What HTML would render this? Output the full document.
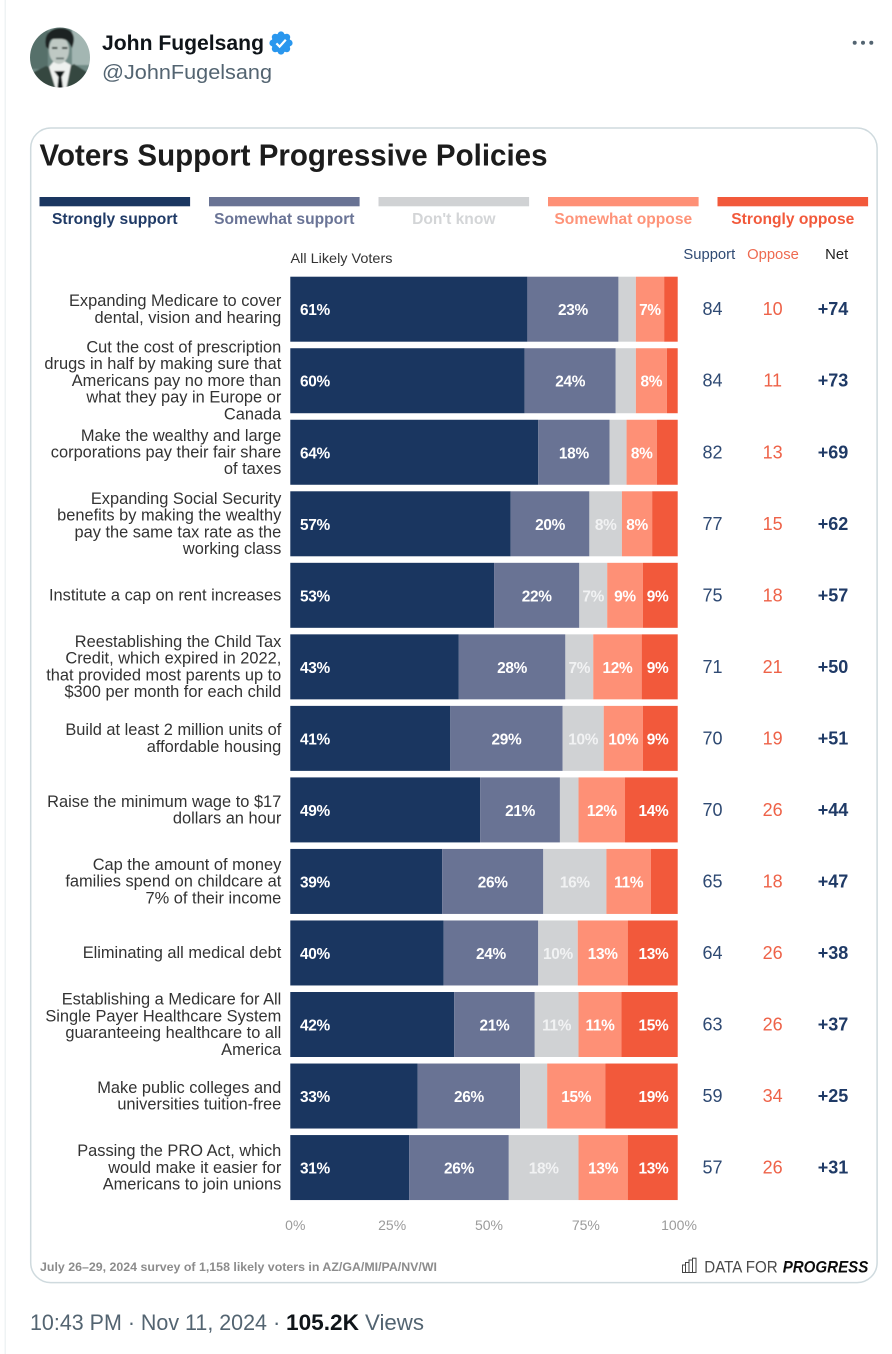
<!DOCTYPE html>
<html lang="en">
<head>
<meta charset="utf-8">
<title>Voters Support Progressive Policies</title>
<style>
html,body{margin:0;padding:0;background:#fff;}
svg{display:block;font-family:"Liberation Sans",sans-serif;filter:blur(0.3px);}
</style>
</head>
<body>
<svg id="chart" width="892" height="1354" viewBox="0 0 892 1354" xmlns="http://www.w3.org/2000/svg">
  <defs>
    <clipPath id="avatarClip"><circle cx="60" cy="57.5" r="30"/></clipPath>
    <filter id="soft" x="-10%" y="-10%" width="120%" height="120%"><feGaussianBlur stdDeviation="0.8"/></filter>
  </defs>
  <rect width="892" height="1354" fill="#ffffff"/>
  <rect x="4.5" y="0" width="1.5" height="1354" fill="#eff3f4"/>

  <g clip-path="url(#avatarClip)">
    <g filter="url(#soft)">
      <rect x="28" y="25" width="64" height="66" fill="#6f8a85"/>
      <rect x="28" y="25" width="20" height="44" fill="#566f6a"/>
      <rect x="72" y="25" width="20" height="40" fill="#a3b6b2"/>
      <path d="M28 92 L30 74 L46 66 L58 70 L62 70 L74 64 L90 74 L92 92 Z" fill="#34463f"/>
      <path d="M49 67 L56 90 L66 90 L71 65 L64 61 L54 61 Z" fill="#eef1ef"/>
      <ellipse cx="59" cy="50" rx="10" ry="14" fill="#bfc9c4"/>
      <path d="M46 47 C43 33 52 28 61 28 C72 28 77 36 72 48 L69 43 C66 38 60 39 54 39 C50 39 49 42 49 49 Z" fill="#1a2422"/>
      <rect x="52" y="47" width="5.5" height="2" fill="#2f3c39"/>
      <rect x="62" y="47" width="5.5" height="2" fill="#2f3c39"/>
      <rect x="56" y="57.5" width="8" height="1.8" fill="#5f6d69"/>
      <path d="M54 71 L65 71 L61.5 77 L63.5 92 L57 92 L58.5 77 Z" fill="#0e1413"/>
    </g>
  </g>

  <text x="102" y="50" font-size="21" font-weight="700" fill="#0f1419" textLength="162" lengthAdjust="spacingAndGlyphs">John Fugelsang</text>
  <g>
    <circle cx="281" cy="43" r="9.6" fill="#2a97ee"/>
    <circle cx="281" cy="34.8" r="3.4" fill="#2a97ee"/>
    <circle cx="281" cy="51.2" r="3.4" fill="#2a97ee"/>
    <circle cx="272.8" cy="43" r="3.4" fill="#2a97ee"/>
    <circle cx="289.2" cy="43" r="3.4" fill="#2a97ee"/>
    <circle cx="275.2" cy="37.2" r="3.4" fill="#2a97ee"/>
    <circle cx="286.8" cy="37.2" r="3.4" fill="#2a97ee"/>
    <circle cx="275.2" cy="48.8" r="3.4" fill="#2a97ee"/>
    <circle cx="286.8" cy="48.8" r="3.4" fill="#2a97ee"/>
    <path d="M276.4 43.4 L279.6 46.6 L285.8 39.8" fill="none" stroke="#ffffff" stroke-width="2.2"/>
  </g>
  <text x="102" y="79" font-size="20.5" fill="#536471" textLength="170" lengthAdjust="spacingAndGlyphs">@JohnFugelsang</text>
  <g fill="#536471">
    <circle cx="854.7" cy="42.8" r="2"/>
    <circle cx="863" cy="42.8" r="2"/>
    <circle cx="871.3" cy="42.8" r="2"/>
  </g>

  <rect x="30.7" y="128" width="846.4" height="1154.6" rx="20" ry="20" fill="#ffffff" stroke="#cfdade" stroke-width="1.5"/>

  <text x="39.5" y="165.5" font-size="31" font-weight="700" fill="#1c1c1c" textLength="508" lengthAdjust="spacingAndGlyphs">Voters Support Progressive Policies</text>

  <g id="legend"></g>

  <text x="290.5" y="263" font-size="13.6" fill="#333333" textLength="102" lengthAdjust="spacingAndGlyphs">All Likely Voters</text>
  <text x="709.3" y="259" font-size="14.8" text-anchor="middle" fill="#2f4a73">Support</text>
  <text x="773" y="259" font-size="14.8" text-anchor="middle" fill="#ee6a50">Oppose</text>
  <text x="836.7" y="259" font-size="14.8" text-anchor="middle" fill="#222222">Net</text>

  <g id="rows"></g>
  <g id="axis"></g>

  <text x="40" y="1271" font-size="11.7" font-weight="700" fill="#8c8c8c" textLength="397" lengthAdjust="spacingAndGlyphs">July 26–29, 2024 survey of 1,158 likely voters in AZ/GA/MI/PA/NV/WI</text>

  <g>
    <g fill="none" stroke="#444444" stroke-width="1">
      <rect x="682.5" y="1265" width="3" height="7.5"/>
      <rect x="685.5" y="1262.5" width="3.5" height="10"/>
      <rect x="689" y="1260" width="3.5" height="12.5"/>
      <rect x="692.5" y="1258.2" width="3.5" height="14.3"/>
    </g>
    <text x="704.3" y="1272.3" font-size="17" fill="#4a4a4a" textLength="73.4" lengthAdjust="spacingAndGlyphs">DATA FOR</text>
    <text x="782.7" y="1272.3" font-size="17" font-weight="700" font-style="italic" fill="#0c0c0c" textLength="85.6" lengthAdjust="spacingAndGlyphs">PROGRESS</text>
  </g>

  <g font-size="22">
    <text x="30" y="1330" fill="#536471" textLength="237" lengthAdjust="spacingAndGlyphs">10:43 PM · Nov 11, 2024</text>
    <text x="273" y="1330" fill="#536471">·</text>
    <text x="286" y="1330" font-weight="700" fill="#0f1419" textLength="73" lengthAdjust="spacingAndGlyphs">105.2K</text>
    <text x="365" y="1330" fill="#536471" textLength="59" lengthAdjust="spacingAndGlyphs">Views</text>
  </g>
</svg>

<script>
// ---- Chart data ----
const legendLabels = ["Strongly support", "Somewhat support", "Don't know", "Somewhat oppose", "Strongly oppose"];

const rowLabels = [
  ["Expanding Medicare to cover", "dental, vision and hearing"],
  ["Cut the cost of prescription", "drugs in half by making sure that", "Americans pay no more than", "what they pay in Europe or", "Canada"],
  ["Make the wealthy and large", "corporations pay their fair share", "of taxes"],
  ["Expanding Social Security", "benefits by making the wealthy", "pay the same tax rate as the", "working class"],
  ["Institute a cap on rent increases"],
  ["Reestablishing the Child Tax", "Credit, which expired in 2022,", "that provided most parents up to", "$300 per month for each child"],
  ["Build at least 2 million units of", "affordable housing"],
  ["Raise the minimum wage to $17", "dollars an hour"],
  ["Cap the amount of money", "families spend on childcare at", "7% of their income"],
  ["Eliminating all medical debt"],
  ["Establishing a Medicare for All", "Single Payer Healthcare System", "guaranteeing healthcare to all", "America"],
  ["Make public colleges and", "universities tuition-free"],
  ["Passing the PRO Act, which", "would make it easier for", "Americans to join unions"]
];

// Segment widths (percent of bar)
const stronglySupport = [61.2, 60.5, 64.0, 56.9, 52.6, 43.5, 41.3, 49.0, 39.2, 39.6, 42.3, 32.9, 30.7];
const somewhatSupport = [23.5, 23.5, 18.4, 20.3, 22.0, 27.5, 29.0, 20.6, 26.1, 24.4, 20.8, 26.4, 25.7];
const dontKnow        = [4.5, 5.2, 4.4, 8.4, 7.2, 7.2, 10.6, 4.8, 16.3, 10.2, 11.3, 7.0, 18.0];
const somewhatOppose  = [7.3, 8.0, 7.8, 7.8, 9.2, 12.5, 10.1, 12.0, 11.5, 12.9, 11.1, 15.0, 12.7];
const stronglyOppose  = [3.5, 2.8, 5.4, 6.6, 9.0, 9.3, 9.0, 13.6, 6.9, 12.9, 14.5, 18.7, 12.9];

// Printed segment labels (null = not printed)
const stronglySupportLabels = [61, 60, 64, 57, 53, 43, 41, 49, 39, 40, 42, 33, 31];
const somewhatSupportLabels = [23, 24, 18, 20, 22, 28, 29, 21, 26, 24, 21, 26, 26];
const dontKnowLabels        = [null, null, null, 8, 7, 7, 10, null, 16, 10, 11, null, 18];
const somewhatOpposeLabels  = [7, 8, 8, 8, 9, 12, 10, 12, 11, 13, 11, 15, 13];
const stronglyOpposeLabels  = [null, null, null, null, 9, 9, 9, 14, null, 13, 15, 19, 13];

// Printed table columns
const supportTotals = [84, 84, 82, 77, 75, 71, 70, 70, 65, 64, 63, 59, 57];
const opposeTotals  = [10, 11, 13, 15, 18, 21, 19, 26, 18, 26, 26, 34, 26];
const netValues     = ["+74", "+73", "+69", "+62", "+57", "+50", "+51", "+44", "+47", "+38", "+37", "+25", "+31"];

const axisTicks = [0, 25, 50, 75, 100];

// ---- Layout & scales ----
const SVG_NS = "http://www.w3.org/2000/svg";
const seriesValues = [stronglySupport, somewhatSupport, dontKnow, somewhatOppose, stronglyOppose];
const seriesLabels = [stronglySupportLabels, somewhatSupportLabels, dontKnowLabels, somewhatOpposeLabels, stronglyOpposeLabels];
const seriesKeys = ["strongly-support", "somewhat-support", "dont-know", "somewhat-oppose", "strongly-oppose"];
const seriesColors = ["#1a3660", "#697394", "#d0d2d4", "#fe9076", "#f2593b"];
const legendTextColors = ["#1f3a66", "#6a7496", "#d3d5d7", "#fe9379", "#f2593b"];

const plotLeft = 290.3;
const plotWidth = 387.4;
const firstRowTop = 276.7;
const rowStep = 71.53;
const rowHeight = 65;

function xScale(v) { return plotLeft + (v / 100) * plotWidth; }
function rowTop(i) { return firstRowTop + i * rowStep; }
function rowCenter(i) { return rowTop(i) + rowHeight / 2; }

function make(tag, parent) {
  const el = document.createElementNS(SVG_NS, tag);
  parent.appendChild(el);
  return el;
}
function setAll(el, attrs) {
  Object.keys(attrs).forEach(function (k) { el.setAttribute(k, attrs[k]); });
}

// ---- Legend ----
const legendGroup = document.getElementById("legend");
legendLabels.forEach(function (label, s) {
  const left = 39.5 + s * 169.5;
  const bar = make("rect", legendGroup);
  
  
  setAll(bar, { x: left, y: 197, width: 150.6, height: 9.3, fill: seriesColors[s] });
  const text = make("text", legendGroup);
  
  
  setAll(text, { x: left + 75.3, y: 224, "font-size": 15.6, "font-weight": 700, "text-anchor": "middle", fill: legendTextColors[s] });
  text.textContent = label;
});

// ---- Rows ----
const rowsGroup = document.getElementById("rows");
rowLabels.forEach(function (lines, i) {
  const row = make("g", rowsGroup);
  
  

  lines.forEach(function (line, n) {
    const t = make("text", row);
    
    
    const y = rowCenter(i) + (n - (lines.length - 1) / 2) * 16.7 + 5.2;
    setAll(t, { x: 281.3, y: y, "font-size": 16.4, "text-anchor": "end", fill: "#333333" });
    t.textContent = line;
  });

  let cum = 0;
  seriesValues.forEach(function (values, s) {
    const v = values[i];
    const x0 = xScale(cum);
    const x1 = xScale(cum + v);
    const seg = make("rect", row);
    
    
    setAll(seg, { x: x0, y: rowTop(i), width: x1 - x0, height: rowHeight, fill: seriesColors[s] });
    cum += v;
  });

  cum = 0;
  seriesValues.forEach(function (values, s) {
    const v = values[i];
    const x0 = xScale(cum);
    const x1 = xScale(cum + v);
    const printed = seriesLabels[s][i];
    if (printed !== null) {
      const lab = make("text", row);
      
      
      let lx = (x0 + x1) / 2;
      let anchor = "middle";
      if (s === 0) { lx = x0 + 9.7; anchor = "start"; }
      if (s === 4) { lx = x1 - 9.3; anchor = "end"; }
      setAll(lab, { x: lx, y: rowCenter(i) + 6, "font-size": 15.4, "font-weight": 700, "text-anchor": anchor, "letter-spacing": "-0.3", fill: "#ffffff" });
      if (s === 2) { lab.setAttribute("fill", "#f1f2f3"); }
      lab.textContent = printed + "%";
    }
    cum += v;
  });

  const sup = make("text", row);
  
  
  setAll(sup, { x: 712.5, y: rowCenter(i) + 6, "font-size": 18, "text-anchor": "middle", fill: "#2f4a73" });
  sup.textContent = supportTotals[i];

  const opp = make("text", row);
  
  
  setAll(opp, { x: 772.7, y: rowCenter(i) + 6, "font-size": 18, "text-anchor": "middle", fill: "#ee6248" });
  opp.textContent = opposeTotals[i];

  const net = make("text", row);
  
  
  setAll(net, { x: 833, y: rowCenter(i) + 6, "font-size": 18, "font-weight": 700, "text-anchor": "middle", fill: "#1f3a66" });
  net.textContent = netValues[i];
});

// ---- Axis ----
const axisGroup = document.getElementById("axis");
axisTicks.forEach(function (tick) {
  const t = make("text", axisGroup);
  
  
  const cx = Math.min(xScale(tick) + 5, 679);
  setAll(t, { x: cx, y: 1230, "font-size": 14, "text-anchor": "middle", fill: "#9b9b9b" });
  t.textContent = tick + "%";
});
</script>
</body>
</html>
